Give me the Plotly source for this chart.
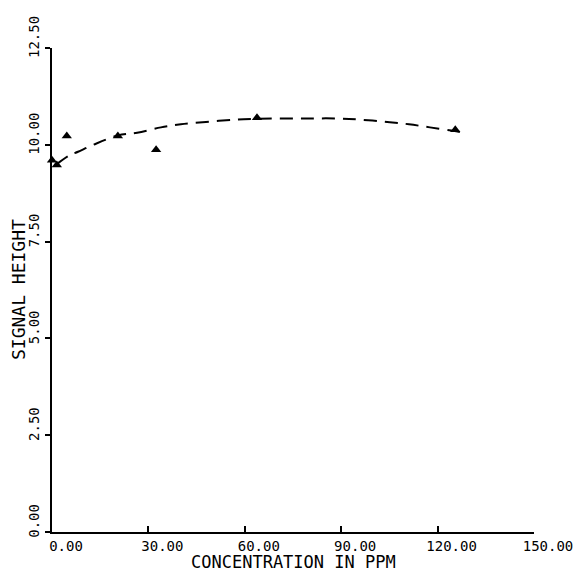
import plotly.graph_objects as go

# data points (triangles)
conc = [0.0, 1.5, 4.6, 20.5, 32.4, 63.8, 125.5]
signal = [9.60, 9.48, 10.23, 10.23, 9.87, 10.70, 10.39]

# fitted curve
fit_x = [1.5, 5.3, 8.1, 12.6, 20.5, 26.5, 33.9, 40.1, 47.9, 57.0, 63.5, 68.8,
         78.7, 88.4, 95.9, 104.3, 111.1, 117.6, 124.8, 128.8]
fit_y = [9.50, 9.72, 9.82, 9.99, 10.24, 10.31, 10.45, 10.53, 10.59, 10.65, 10.67,
         10.68, 10.68, 10.68, 10.65, 10.59, 10.53, 10.45, 10.36, 10.30]

x_ticks = [0, 30, 60, 90, 120, 150]
x_labels = ["0.00", "30.00", "60.00", "90.00", "120.00", "150.00"]
y_ticks = [0, 2.5, 5, 7.5, 10, 12.5]
y_labels = ["0.00", "2.50", "5.00", "7.50", "10.00", "12.50"]

FONT = "DejaVu Sans Mono"

fig = go.Figure()
fig.add_trace(go.Scatter(
    x=fit_x, y=fit_y, mode="lines", line_shape="spline",
    line=dict(color="black", width=2, dash="13px,8px"),
    showlegend=False, hoverinfo="skip"))
fig.add_trace(go.Scatter(
    x=conc, y=signal, mode="markers",
    marker=dict(symbol="triangle-up", size=9, color="black"),
    showlegend=False, cliponaxis=False))

fig.update_layout(
    width=585, height=573,
    margin=dict(l=52, r=51, t=48, b=41),
    paper_bgcolor="white", plot_bgcolor="white",
    font=dict(family=FONT, color="black"),
    xaxis=dict(range=[0, 150], tickvals=x_ticks, ticktext=x_labels,
               showgrid=False, zeroline=False, showline=True,
               linecolor="black", linewidth=1.5,
               ticks="inside", ticklen=6, tickcolor="black", tickwidth=1.5,
               tickfont=dict(family=FONT, size=14),
               ticklabelshift=14, ticklabelstandoff=0),
    yaxis=dict(range=[0, 12.5], tickvals=y_ticks, ticktext=y_labels,
               showgrid=False, zeroline=False, showline=True,
               linecolor="black", linewidth=1.5,
               ticks="outside", ticklen=5, tickcolor="black", tickwidth=1.5,
               tickangle=-90,
               tickfont=dict(family=FONT, size=14),
               ticklabelshift=-9, ticklabelstandoff=1),
    annotations=[
        dict(text="CONCENTRATION IN PPM", xref="paper", yref="paper",
             x=0.5, y=0, xanchor="center", yanchor="bottom", yshift=-42,
             showarrow=False, font=dict(family=FONT, size=17)),
        dict(text="SIGNAL HEIGHT", xref="paper", yref="paper",
             x=0, y=0.5, xanchor="center", yanchor="middle", xshift=-34,
             textangle=-90, showarrow=False, font=dict(family=FONT, size=18)),
    ],
)

fig.write_html("out.html")
